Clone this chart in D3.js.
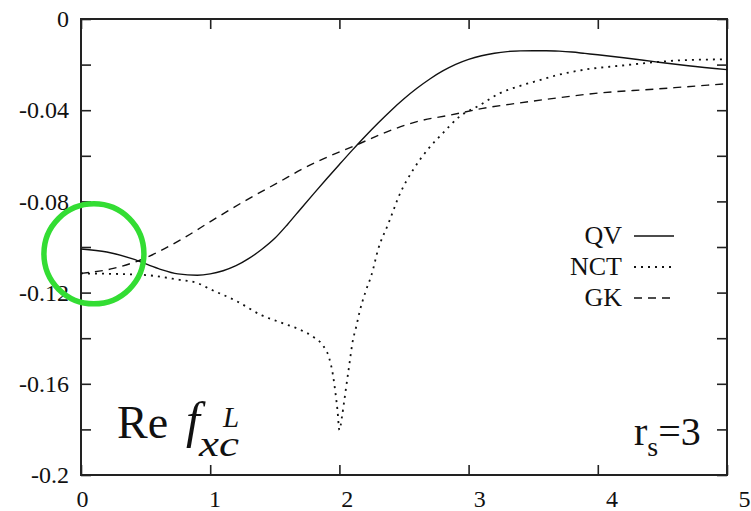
<!DOCTYPE html>
<html>
<head>
<meta charset="utf-8">
<script src="https://cdn.jsdelivr.net/npm/d3@7"></script>
<style>
body { margin: 0; background: #fff; }
text { font-family: "Liberation Serif", "Times New Roman", serif; fill: #111; }
</style>
</head>
<body>
<script>
var width = 751,
    height = 511,
    margin = {top: 19, right: 24, bottom: 36, left: 81}

// QV (solid)
var qvQ   = [0, 0.2, 0.4, 0.6, 0.75, 0.9, 1.0, 1.1, 1.2, 1.3, 1.4, 1.5, 1.6, 1.7, 1.8, 1.9, 2.0, 2.1, 2.2, 2.3, 2.4, 2.5, 2.6, 2.7, 2.8, 2.9, 3.0, 3.1, 3.2, 3.3, 3.4, 3.5, 3.6, 3.7, 3.8, 3.9, 4.0, 4.2, 4.45, 4.7, 5.0]
var qvVal = [-0.1009, -0.1022, -0.1052, -0.1095, -0.1118, -0.1124, -0.1118, -0.1104, -0.1082, -0.1050, -0.1010, -0.0962, -0.0900, -0.0833, -0.0767, -0.0702, -0.0638, -0.0575, -0.0514, -0.0456, -0.0401, -0.0350, -0.0304, -0.0263, -0.0228, -0.0199, -0.0177, -0.0161, -0.0150, -0.0143, -0.0140, -0.0139, -0.0139, -0.0141, -0.0145, -0.0151, -0.0157, -0.0170, -0.0188, -0.0205, -0.0222]

// NCT (dotted)
var nctQ   = [0, 0.25, 0.5, 0.75, 0.9, 1.0, 1.2, 1.4, 1.55, 1.7, 1.8, 1.87, 1.92, 1.95, 1.97, 1.985, 2.0, 2.02, 2.04, 2.06, 2.08, 2.10, 2.13, 2.16, 2.2, 2.25, 2.3, 2.38, 2.47, 2.57, 2.68, 2.8, 2.93, 3.09, 3.24, 3.4, 3.55, 3.66, 3.91, 4.17, 4.43, 4.69, 5.0]
var nctVal = [-0.1116, -0.1118, -0.1123, -0.1143, -0.1158, -0.1185, -0.1236, -0.1300, -0.1332, -0.1364, -0.1395, -0.1430, -0.1485, -0.1561, -0.1642, -0.1715, -0.1803, -0.1744, -0.1664, -0.1583, -0.1503, -0.1423, -0.1350, -0.1276, -0.1200, -0.1120, -0.1010, -0.0896, -0.0765, -0.0662, -0.0575, -0.0501, -0.0428, -0.0377, -0.0326, -0.0293, -0.0268, -0.0250, -0.0221, -0.0205, -0.0190, -0.0180, -0.0177]

// GK (dashed)
var gkQ   = [0, 0.25, 0.46, 0.77, 1.02, 1.28, 1.54, 1.7, 1.85, 2.13, 2.34, 2.6, 2.86, 3.11, 3.37, 3.66, 4.04, 4.43, 4.69, 5.0]
var gkVal = [-0.1116, -0.1094, -0.1057, -0.0969, -0.0882, -0.0794, -0.0713, -0.0662, -0.0620, -0.0553, -0.0501, -0.0450, -0.0421, -0.0392, -0.0370, -0.0348, -0.0323, -0.0308, -0.0297, -0.0284]

var xTicks = [0, 1, 2, 3, 4, 5]
var xTickLabels = ["0", "1", "2", "3", "4", "5"]
var yTicks = [0, -0.04, -0.08, -0.12, -0.16, -0.2]
var yTickLabels = ["0", "-0.04", "-0.08", "-0.12", "-0.16", "-0.2"]
var yMinorTicks = [-0.02, -0.06, -0.1, -0.14, -0.18]

var legendNames = ["QV", "NCT", "GK"]
var dashes = [null, "2,5", "8,6"]

var series = [
    {name: "QV", q: qvQ, v: qvVal},
    {name: "NCT", q: nctQ, v: nctVal},
    {name: "GK", q: gkQ, v: gkVal}
]

var x = d3.scaleLinear()
    .domain([0, 5])
    .range([margin.left, width - margin.right])

// labels in the picture drift slightly to the right of their ticks
var xLabel = d3.scaleLinear()
    .domain([0, 5])
    .range([margin.left + 1, 744])

var y = d3.scaleLinear()
    .domain([-0.2, 0])
    .range([height - margin.bottom, margin.top])

var svg = d3.select("body").append("svg")
    .attr("width", width)
    .attr("height", height)

var tickLen = 10

// ticks, all pointing inward
var allY = yTicks.concat(yMinorTicks)
svg.append("g")
    .attr("transform", "translate(" + margin.left + ",0)")
    .call(d3.axisLeft(y).tickValues(allY).tickSize(-tickLen).tickFormat(""))
svg.append("g")
    .attr("transform", "translate(" + (width - margin.right) + ",0)")
    .call(d3.axisRight(y).tickValues(allY).tickSize(-tickLen).tickFormat(""))
svg.append("g")
    .attr("transform", "translate(0," + (height - margin.bottom) + ")")
    .call(d3.axisBottom(x).tickValues(xTicks).tickSize(-tickLen).tickFormat(""))
svg.append("g")
    .attr("transform", "translate(0," + margin.top + ")")
    .call(d3.axisTop(x).tickValues(xTicks).tickSize(-tickLen).tickFormat(""))

svg.selectAll(".domain").remove()
svg.selectAll(".tick line").attr("stroke", "#222").attr("stroke-width", 1.6)

// tick labels
svg.append("g")
    .attr("class", "ylab")
    .attr("transform", "translate(" + margin.left + ",0)")
    .call(d3.axisLeft(y).tickValues(yTicks).tickSize(0).tickPadding(12)
        .tickFormat(function(d, i) { return yTickLabels[i] }))
svg.append("g")
    .attr("class", "xlab")
    .attr("transform", "translate(0," + (height - margin.bottom) + ")")
    .call(d3.axisBottom(xLabel).tickValues(xTicks).tickSize(0).tickPadding(15)
        .tickFormat(function(d, i) { return xTickLabels[i] }))
svg.selectAll(".ylab .domain, .xlab .domain").remove()
svg.selectAll(".ylab text, .xlab text")
    .style("font-family", "Liberation Serif")
    .style("font-size", "24px")
    .attr("fill", "#111")

// frame
svg.append("rect")
    .attr("x", margin.left)
    .attr("y", margin.top)
    .attr("width", width - margin.left - margin.right)
    .attr("height", height - margin.top - margin.bottom)
    .attr("fill", "none")
    .attr("stroke", "#222")
    .attr("stroke-width", 2)

// curves
var line = d3.line()
    .x(function(d) { return x(d[0]) })
    .y(function(d) { return y(d[1]) })
    .curve(d3.curveMonotoneX)

series.forEach(function(s, i) {
    svg.append("path")
        .datum(s.q.map(function(q, j) { return [q, s.v[j]] }))
        .attr("d", line)
        .attr("fill", "none")
        .attr("stroke", "#111")
        .attr("stroke-width", i == 1 ? 1.8 : 1.4)
        .attr("stroke-dasharray", dashes[i])
})

// legend
var leg = svg.append("g").selectAll("g")
    .data(legendNames)
    .enter().append("g")
    .attr("transform", function(d, i) { return "translate(0," + (244 + i * 31) + ")" })

leg.append("text")
    .attr("x", 622)
    .attr("text-anchor", "end")
    .style("font-size", "26px")
    .text(function(d) { return d })

leg.append("line")
    .attr("x1", 634).attr("x2", 674)
    .attr("y1", -8).attr("y2", -8)
    .attr("stroke", "#111")
    .attr("stroke-width", function(d, i) { return i == 1 ? 1.8 : 1.4 })
    .attr("stroke-dasharray", function(d, i) { return dashes[i] })

// Re f_xc^L label
svg.append("text")
    .attr("x", 117)
    .attr("y", 438)
    .style("font-size", "46px")
    .text("Re")
svg.append("text")
    .attr("x", 186)
    .attr("y", 437)
    .style("font-size", "50px")
    .style("font-style", "italic")
    .text("f")
svg.append("text")
    .attr("x", 199)
    .attr("y", 456)
    .attr("textLength", 40)
    .attr("lengthAdjust", "spacingAndGlyphs")
    .style("font-size", "35px")
    .style("font-style", "italic")
    .text("xc")
svg.append("text")
    .attr("x", 223)
    .attr("y", 427)
    .style("font-size", "29px")
    .style("font-style", "italic")
    .text("L")

// r_s=3
var rs = svg.append("text")
    .attr("x", 634)
    .attr("y", 445)
    .style("font-size", "40px")
rs.append("tspan").text("r")
rs.append("tspan").attr("dy", 11).style("font-size", "28px").text("s")
rs.append("tspan").attr("dy", -11).text("=3")

// green circle
svg.append("circle")
    .attr("cx", x(0.1))
    .attr("cy", y(-0.103))
    .attr("r", 50)
    .attr("fill", "none")
    .attr("stroke", "#33dd33")
    .attr("stroke-width", 5.5)
</script>
</body>
</html>
